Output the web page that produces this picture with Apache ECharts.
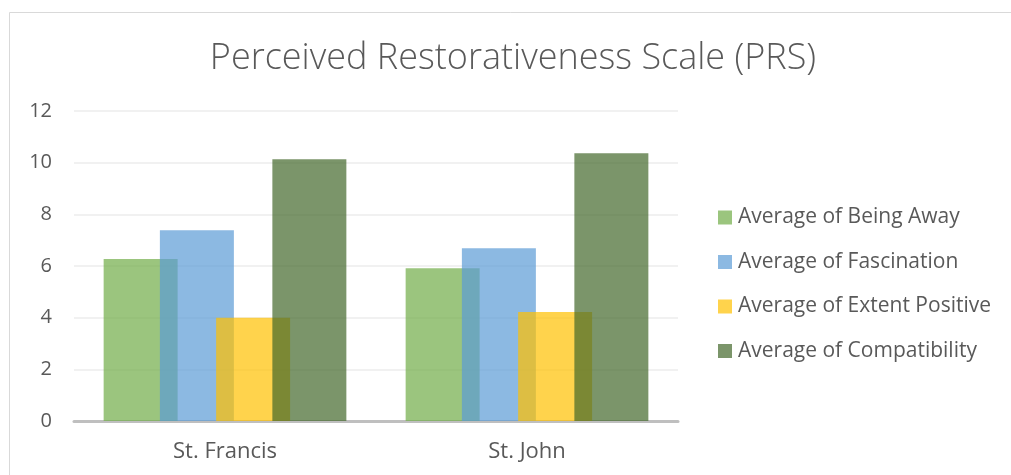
<!DOCTYPE html>
<html>
<head>
<meta charset="utf-8">
<script src="https://cdn.jsdelivr.net/npm/echarts@6/dist/echarts.min.js"></script>
<style>
  html, body { margin: 0; padding: 0; background: #fff; }
  #main { width: 1011px; height: 475px; }
</style>
</head>
<body>
<div id="main"></div>
<script>
// data
var categories = ['St. Francis', 'St. John'];
var seriesNames = ['Average of Being Away', 'Average of Fascination', 'Average of Extent Positive', 'Average of Compatibility'];
var beingAway = [6.27, 5.91];
var fascination = [7.38, 6.69];
var extentPositive = [4.0, 4.22];
var compatibility = [10.13, 10.36];
var yTicks = [0, 2, 4, 6, 8, 10, 12];

var colors = ['rgba(112,173,71,0.7)', 'rgba(91,155,213,0.7)', 'rgba(255,192,0,0.7)', 'rgba(67,104,43,0.7)'];
var values = [beingAway, fascination, extentPositive, compatibility];
var textColor = '#595959';
var font = '"Open Sans", sans-serif';

var myChart = echarts.init(document.getElementById('main'));

myChart.setOption({
  backgroundColor: '#fff',
  animation: false,
  color: colors,
  graphic: [{
    type: 'rect',
    shape: { x: 9.5, y: 12.5, width: 1200, height: 1000 },
    style: { fill: 'none', stroke: '#d9d9d9', lineWidth: 1 },
    silent: true
  }],
  title: {
    text: 'Perceived Restorativeness Scale (PRS)',
    left: 508,
    textAlign: 'center',
    top: 36,
    textStyle: { color: textColor, fontFamily: font, fontWeight: 300, fontSize: 36 }
  },
  legend: {
    orient: 'vertical',
    left: 713,
    top: 202,
    itemWidth: 14,
    itemHeight: 14,
    itemGap: 23.5,
    icon: 'rect',
    data: seriesNames,
    textStyle: { color: textColor, fontFamily: font, fontSize: 21, padding: [0, 0, 0, 1] }
  },
  grid: { left: 74, right: 333, top: 111, bottom: 54, containLabel: false },
  xAxis: {
    type: 'category',
    data: categories,
    axisTick: { show: false },
    axisLine: { lineStyle: { color: '#bfbfbf', width: 3 } },
    axisLabel: { color: textColor, fontFamily: font, fontSize: 22, margin: 20 }
  },
  yAxis: {
    type: 'value',
    min: yTicks[0],
    max: yTicks[yTicks.length - 1],
    interval: yTicks[1] - yTicks[0],
    axisLine: { show: false },
    axisTick: { show: false },
    splitLine: { lineStyle: { color: '#ececec', width: 1.5 } },
    axisLabel: { color: textColor, fontFamily: font, fontSize: 20, margin: 22 }
  },
  series: seriesNames.map(function (name, i) {
    return {
      name: name,
      type: 'bar',
      data: values[i],
      barWidth: 74,
      barGap: '-24%',
      itemStyle: { color: colors[i] }
    };
  })
});
</script>
</body>
</html>
